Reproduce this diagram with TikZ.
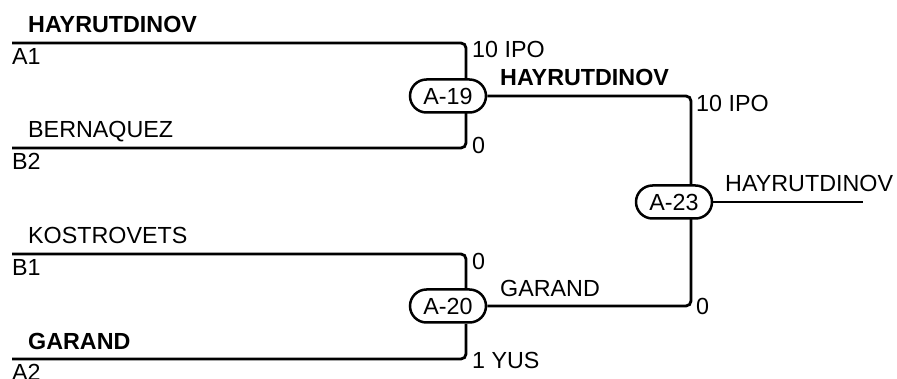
\documentclass[tikz,border=0pt]{standalone}
\usepackage{fontspec}
\setmainfont{Liberation Sans}
\usetikzlibrary{shapes.misc}
\begin{document}
\begin{tikzpicture}[x=1pt,y=-1pt,
  txt/.style={inner sep=0pt,anchor=base west,font=\fontsize{23.3}{28}\selectfont},
  bold/.style={txt,font=\fontsize{23.3}{28}\selectfont\bfseries},
  game/.style={draw,line width=2.5pt,rounded rectangle,minimum width=76pt,minimum height=33pt,inner sep=0pt,font=\fontsize{23.3}{28}\selectfont},
  wire/.style={line width=2.8pt,rounded corners=5pt}]
\useasboundingbox (0,0) rectangle (897,379);
% games
\node[game] (g19) at (448,96) {A-19};
\node[game] (g20) at (448,306) {A-20};
\node[game] (g23) at (674,202) {A-23};
% line start points
\coordinate (a1) at (12,43);
\coordinate (b2) at (12,148);
\coordinate (b1) at (12,254);
\coordinate (a2) at (12,359);
\coordinate (fin) at (863,202);
% wires
\draw[wire] (a1) -- (466,43) -- (466,78);
\draw[wire] (b2) -- (466,148) -- (466,113);
\draw[wire] (b1) -- (466,254) -- (466,289);
\draw[wire] (a2) -- (466,359) -- (466,324);
\draw[wire] (g19.east) -- (691,96) -- (691,185);
\draw[wire] (g20.east) -- (691,306) -- (691,219);
\draw[wire] (g23.east) -- (fin);
% names
\node[bold] (n1) at (28,33) {HAYRUTDINOV};
\node[txt] (n2) at (28,138) {BERNAQUEZ};
\node[txt] (n3) at (28,244) {KOSTROVETS};
\node[bold] (n4) at (28,349) {GARAND};
\node[bold] (w1) at (500,86) {HAYRUTDINOV};
\node[txt] (w2) at (500,297) {GARAND};
\node[txt] (w3) at (725,192) {HAYRUTDINOV};
% seeds
\node[txt] (s1) at (12,65) {A1};
\node[txt] (s2) at (12,170) {B2};
\node[txt] (s3) at (12,276) {B1};
\node[txt] (s4) at (12,380) {A2};
% scores
\node[txt] (c1) at (472,58) {10 IPO};
\node[txt] (c2) at (472,154) {0};
\node[txt] (c3) at (472,270) {0};
\node[txt] (c4) at (472,368) {1 YUS};
\node[txt] (c5) at (696,112) {10 IPO};
\node[txt] (c6) at (696,315) {0};
\end{tikzpicture}
\end{document}
